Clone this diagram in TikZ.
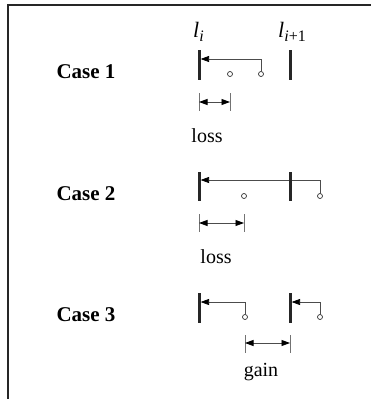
\documentclass[tikz,border=0pt]{standalone}
\usepackage{fontspec}
\setmainfont{Liberation Serif}
\usetikzlibrary{arrows.meta}
\begin{document}
\begin{tikzpicture}[x=1pt,y=-1pt,
  frame/.style={line width=1.3pt,black!85},
  bar/.style={line width=3pt,black!85},
  link/.style={line width=0.8pt,black!70,-{Triangle[length=8.5pt,width=6pt,fill=black,color=black]}},
  span/.style={line width=0.8pt,black!70,{Triangle[length=8.5pt,width=6pt,fill=black,color=black]}-{Triangle[length=8.5pt,width=6pt,fill=black,color=black]}},
  tick/.style={line width=0.8pt,black!55},
  dot/.style={circle,draw=black!80,line width=0.7pt,fill=white,inner sep=0pt,minimum size=5pt},
  casetxt/.style={font=\fontsize{21}{24}\selectfont\bfseries,anchor=base,inner sep=0pt},
  lbl/.style={font=\fontsize{20}{24}\selectfont,anchor=base,inner sep=0pt},
  lvl/.style={font=\fontsize{22}{24}\selectfont\itshape,anchor=base west,inner sep=0pt}
]
\useasboundingbox (0,0) rectangle (371,399);
\draw[frame] (371,5) -- (8,5) -- (8,399);

% labels l_i, l_{i+1}
\node[lvl] (li) at (193,37) {l\raisebox{-0.4ex}{\fontsize{16}{16}\selectfont i}};
\node[lvl] (lj) at (278,37) {l\raisebox{-0.4ex}{\fontsize{16}{16}\selectfont i\upshape+1}};

% ---------- Case 1 ----------
\node[casetxt] (c1) at (86,78) {Case 1};
\coordinate (c1La) at (199,50); \coordinate (c1Lb) at (199,80);
\coordinate (c1Ra) at (290,50); \coordinate (c1Rb) at (290,80);
\draw[bar] (c1La) -- (c1Lb);
\draw[bar] (c1Ra) -- (c1Rb);
\node[dot] (p11) at (230,74) {};
\node[dot] (p12) at (261,74) {};
\coordinate (e1) at (200.6,59);
\draw[link] (p12.north) |- (e1);
\coordinate (s1a) at (199,102); \coordinate (s1b) at (230,102);
\draw[tick] (199,93) -- (199,111);
\draw[tick] (230,93) -- (230,111);
\draw[span] (s1a) -- (s1b);
\node[lbl] (loss1) at (207,142) {loss};

% ---------- Case 2 ----------
\node[casetxt] (c2) at (86,200) {Case 2};
\coordinate (c2La) at (199,172); \coordinate (c2Lb) at (199,201);
\coordinate (c2Ra) at (290,172); \coordinate (c2Rb) at (290,201);
\node[dot] (p21) at (244,196) {};
\node[dot] (p22) at (320,196) {};
\coordinate (e2) at (200.6,180);
\draw[link] (p22.north) |- (e2);
\draw[bar] (c2La) -- (c2Lb);
\draw[bar] (c2Ra) -- (c2Rb);
\coordinate (s2a) at (199,223); \coordinate (s2b) at (244,223);
\draw[tick] (199,214) -- (199,232);
\draw[tick] (244,214) -- (244,232);
\draw[span] (s2a) -- (s2b);
\node[lbl] (loss2) at (216,263) {loss};

% ---------- Case 3 ----------
\node[casetxt] (c3) at (86,321) {Case 3};
\coordinate (c3La) at (199,293); \coordinate (c3Lb) at (199,323);
\coordinate (c3Ra) at (290,293); \coordinate (c3Rb) at (290,323);
\draw[bar] (c3La) -- (c3Lb);
\draw[bar] (c3Ra) -- (c3Rb);
\node[dot] (p31) at (245,317) {};
\node[dot] (p32) at (320,317) {};
\coordinate (e3) at (200.6,302);
\coordinate (e4) at (291.6,302);
\draw[link] (p31.north) |- (e3);
\draw[link] (p32.north) |- (e4);
\coordinate (s3a) at (245,343); \coordinate (s3b) at (290,343);
\draw[tick] (245,335) -- (245,353);
\draw[tick] (290,335) -- (290,353);
\draw[span] (s3a) -- (s3b);
\node[lbl] (gain) at (261,376) {gain};
\end{tikzpicture}
\end{document}
